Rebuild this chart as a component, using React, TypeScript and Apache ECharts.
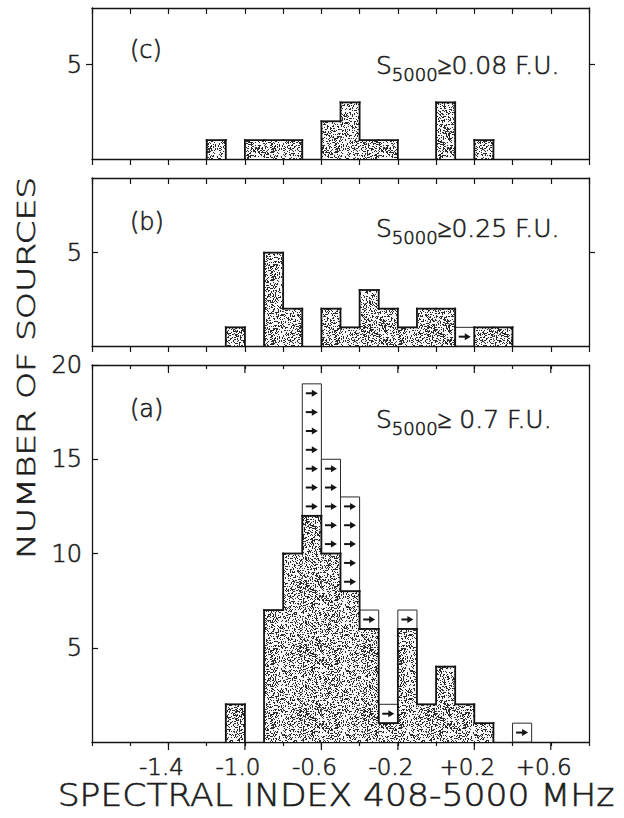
import React, { useEffect, useRef } from "react";
import * as echarts from "echarts";

// ---------- data ----------
const binLefts = [-1.3, -1.2, -1.1, -1.0, -0.9, -0.8, -0.7, -0.6, -0.5, -0.4, -0.3, -0.2, -0.1, 0.0, 0.1, 0.2, 0.3, 0.4, 0.5];
const BIN_WIDTH = 0.1;

// panel (a): S5000 >= 0.7 f.u.
const filledA = [0, 0, 2, 0, 7, 10, 12, 10, 8, 6, 1, 6, 2, 4, 2, 1, 0, 0, 0];
const lowerLimitsA = [0, 0, 0, 0, 0, 0, 7, 5, 5, 1, 1, 1, 0, 0, 0, 0, 0, 1, 0];
// panel (b): S5000 >= 0.25 f.u.
const filledB = [0, 0, 1, 0, 5, 2, 0, 2, 1, 3, 2, 1, 2, 2, 0, 1, 1, 0, 0];
const lowerLimitsB = [0, 0, 0, 0, 0, 0, 0, 0, 0, 0, 0, 0, 0, 0, 1, 0, 0, 0, 0];
// panel (c): S5000 >= 0.08 f.u.
const filledC = [0, 1, 0, 1, 1, 1, 0, 2, 3, 1, 1, 0, 0, 3, 0, 1, 0, 0, 0];
const lowerLimitsC = [0, 0, 0, 0, 0, 0, 0, 0, 0, 0, 0, 0, 0, 0, 0, 0, 0, 0, 0];

const X_MIN = -1.8;
const X_MAX = 0.8;
const X_STEP = 0.2;
const xLabelValues = [-1.4, -1.0, -0.6, -0.2, 0.2, 0.6];
const xLabelTexts = ["-1.4", "-1.0", "-0.6", "-0.2", "+0.2", "+0.6"];

const yMaxC = 8;
const yMaxB = 9;
const yMaxA = 20;
const yTicksC = [5];
const yTicksB = [5];
const yTicksA = [5, 10, 15, 20];

const panelLetters = ["(c)", "(b)", "(a)"];
const fluxLimits = ["≥0.08 F.U.", "≥0.25 F.U.", "≥ 0.7 F.U."];
const yTitle = "NUMBER OF SOURCES";
const xTitle = "SPECTRAL INDEX 408-5000 MHz";

// ---------- style / layout ----------
const INK = "#141414";
const TEXT = "#1c1c1c";
const FONT = "DejaVu Sans";
const FW = 200;
const TB = 0.6; // text thickening stroke
const GRID_LEFT = 92;
const GRID_WIDTH = 497;
const gridTops = [8, 178, 365];
const gridHeights = [151, 168, 377];
const letterY = [50, 222, 409];
const fluxY = [68, 231, 422];

function makeStipple() {
  const size = 64;
  const c = document.createElement("canvas");
  c.width = size;
  c.height = size;
  const ctx = c.getContext("2d")!;
  ctx.fillStyle = "#f6f6f6";
  ctx.fillRect(0, 0, size, size);
  ctx.fillStyle = "#2a2a2a";
  for (let y = 0; y < size; y++) {
    for (let x = 0; x < size; x++) {
      const h = Math.abs(Math.sin(x * 12.9898 + y * 78.233) * 43758.5453) % 1;
      if (h < 0.3) ctx.fillRect(x, y, 1, 1);
    }
  }
  return { image: c, repeat: "repeat", imageWidth: size, imageHeight: size };
}

function histData(filled: number[], limits: number[]) {
  return binLefts.map((x0, i) => [x0, x0 + BIN_WIDTH, filled[i], limits[i]]);
}

function fillRenderer(pattern: any) {
  return (params: any, api: any) => {
    const x0 = api.value(0);
    const x1 = api.value(1);
    const f = api.value(2);
    const a = api.value(3);
    const children: any[] = [];
    if (f > 0) {
      const p0 = api.coord([x0, 0]);
      const p1 = api.coord([x1, f]);
      children.push({
        type: "rect",
        shape: { x: p0[0], y: p1[1], width: p1[0] - p0[0], height: p0[1] - p1[1] },
        style: { fill: pattern },
      });
    }
    if (a > 0) {
      const p0 = api.coord([x0, f]);
      const p1 = api.coord([x1, f + a]);
      children.push({
        type: "rect",
        shape: { x: p0[0], y: p1[1], width: p1[0] - p0[0], height: p0[1] - p1[1] },
        style: { fill: "#ffffff", stroke: "#2a2a2a", lineWidth: 1 },
      });
      for (let k = 0; k < a; k++) {
        const c = api.coord([(x0 + x1) / 2, f + k + 0.5]);
        const cx = c[0];
        const cy = c[1];
        children.push({
          type: "line",
          shape: { x1: cx - 6, y1: cy, x2: cx + 1, y2: cy },
          style: { stroke: INK, lineWidth: 2 },
        });
        children.push({
          type: "polygon",
          shape: { points: [[cx + 6, cy], [cx, cy - 3.5], [cx, cy + 3.5]] },
          style: { fill: INK },
        });
      }
    }
    return { type: "group", children };
  };
}

function outlineRenderer(filled: number[]) {
  return (params: any, api: any) => {
    const i = params.dataIndex;
    const x0 = api.value(0);
    const x1 = api.value(1);
    const f = api.value(2);
    const prev = i > 0 ? filled[i - 1] : 0;
    const s = { stroke: INK, lineWidth: 1.8, lineCap: "square" };
    const children: any[] = [];
    if (f > 0) {
      const a = api.coord([x0, f]);
      const b = api.coord([x1, f]);
      children.push({ type: "line", shape: { x1: a[0], y1: a[1], x2: b[0], y2: b[1] }, style: s });
    }
    if (f !== prev) {
      const a = api.coord([x0, prev]);
      const b = api.coord([x0, f]);
      children.push({ type: "line", shape: { x1: a[0], y1: a[1], x2: b[0], y2: b[1] }, style: s });
    }
    return { type: "group", children };
  };
}

function majorTickRenderer(yMax: number) {
  return (params: any, api: any) => {
    const v = api.value(0);
    const b = api.coord([v, 0]);
    const t = api.coord([v, yMax]);
    const s = { stroke: INK, lineWidth: 1.2 };
    return {
      type: "group",
      children: [
        { type: "line", shape: { x1: b[0], y1: b[1], x2: b[0], y2: b[1] + 8 }, style: s },
        { type: "line", shape: { x1: t[0], y1: t[1], x2: t[0], y2: t[1] + 8 }, style: s },
      ],
    };
  };
}

function labelFor(v: number) {
  const k = xLabelValues.findIndex((t) => Math.abs(t - v) < 1e-6);
  return k >= 0 ? xLabelTexts[k] : "";
}

function xAxesFor(g: number, isA: boolean) {
  const line = { show: true, onZero: false, lineStyle: { color: INK, width: 1.3 } };
  return [
    {
      type: "value", gridIndex: g, position: "bottom", min: X_MIN, max: X_MAX, interval: X_STEP,
      axisLine: line,
      axisTick: { show: true, inside: false, length: isA ? 4 : 6, lineStyle: { color: INK, width: 1.2 } },
      axisLabel: {
        show: isA, margin: 13, fontSize: 23, fontWeight: FW, color: TEXT, fontFamily: FONT,
        textBorderColor: TEXT, textBorderWidth: TB,
        padding: [0, 14, 0, 0], formatter: (v: number) => labelFor(v),
      },
      splitLine: { show: false },
    },
    {
      type: "value", gridIndex: g, position: "top", min: X_MIN, max: X_MAX, interval: X_STEP,
      axisLine: line,
      axisTick: { show: true, inside: true, length: isA ? 4 : 6, lineStyle: { color: INK, width: 1.2 } },
      axisLabel: { show: false },
      splitLine: { show: false },
    },
  ];
}

function yAxesFor(g: number, max: number, ticks: number[], leftInside: boolean, rightTicks: boolean) {
  const line = { show: true, onZero: false, lineStyle: { color: INK, width: 1.3 } };
  return [
    {
      type: "value", gridIndex: g, position: "left", min: 0, max, interval: 5,
      axisLine: line,
      axisTick: { show: true, inside: leftInside, length: 6, customValues: ticks, lineStyle: { color: INK, width: 1.2 } },
      axisLabel: {
        show: true, margin: 10, fontSize: 24, fontWeight: FW, color: TEXT, fontFamily: FONT,
        textBorderColor: TEXT, textBorderWidth: TB, customValues: ticks,
      },
      splitLine: { show: false },
    },
    {
      type: "value", gridIndex: g, position: "right", min: 0, max, interval: 5,
      axisLine: line,
      axisTick: { show: rightTicks, inside: false, length: 6, customValues: ticks, lineStyle: { color: INK, width: 1.2 } },
      axisLabel: { show: false },
      splitLine: { show: false },
    },
  ];
}

export default function App() {
  const ref = useRef<HTMLDivElement>(null);

  useEffect(() => {
    const chart = echarts.init(ref.current!, null, { renderer: "svg", width: 624, height: 818 });
    const pattern = makeStipple();

    const panels = [
      { filled: filledC, limits: lowerLimitsC, max: yMaxC },
      { filled: filledB, limits: lowerLimitsB, max: yMaxB },
      { filled: filledA, limits: lowerLimitsA, max: yMaxA },
    ];

    const series: any[] = [];
    panels.forEach((p, g) => {
      const data = histData(p.filled, p.limits);
      series.push({
        type: "custom", coordinateSystem: "cartesian2d", xAxisIndex: 2 * g, yAxisIndex: 2 * g,
        renderItem: fillRenderer(pattern), data, z: 2, silent: true,
      });
      series.push({
        type: "custom", coordinateSystem: "cartesian2d", xAxisIndex: 2 * g, yAxisIndex: 2 * g,
        renderItem: outlineRenderer(p.filled), data, z: 3, silent: true,
      });
    });
    series.push({
      type: "custom", coordinateSystem: "cartesian2d", xAxisIndex: 4, yAxisIndex: 4,
      renderItem: majorTickRenderer(yMaxA), data: xLabelValues.map((v) => [v]), z: 4, silent: true,
    });

    const font = (size: number) => `${FW} ${size}px '${FONT}'`;
    const tok = (size: number, extra: any = {}) => ({
      fontSize: size, fontFamily: FONT, fontWeight: FW, fill: TEXT,
      stroke: TEXT, lineWidth: TB, verticalAlign: "top", ...extra,
    });
    const graphicEls: any[] = [];
    panelLetters.forEach((t, g) => {
      graphicEls.push({
        type: "text", x: 130, y: letterY[g],
        style: { text: t, font: font(24), fill: TEXT, stroke: TEXT, lineWidth: TB, align: "left", verticalAlign: "middle" },
      });
      graphicEls.push({
        type: "text", x: 376, y: fluxY[g],
        style: {
          text: `{s|S}{sub|5000}{n|${fluxLimits[g]}}`,
          align: "left", verticalAlign: "middle", fill: TEXT, stroke: TEXT, lineWidth: TB,
          rich: {
            s: tok(25),
            sub: tok(18, { padding: [12, 0, 0, 0] }),
            n: tok(25),
          },
        },
      });
    });
    graphicEls.push({
      type: "text", x: 26, y: 368, rotation: Math.PI / 2, scaleX: 1.38,
      style: { text: yTitle, font: font(25), fill: TEXT, stroke: TEXT, lineWidth: TB, align: "center", verticalAlign: "middle" },
    });
    graphicEls.push({
      type: "text", x: 336, y: 795, scaleX: 1.08,
      style: { text: xTitle, font: font(32), fill: TEXT, stroke: TEXT, lineWidth: TB, align: "center", verticalAlign: "middle" },
    });

    const option: any = {
      animation: false,
      backgroundColor: "#ffffff",
      textStyle: { fontFamily: FONT },
      grid: gridTops.map((top, g) => ({
        left: GRID_LEFT, top, width: GRID_WIDTH, height: gridHeights[g],
        show: false, containLabel: false,
      })),
      xAxis: [...xAxesFor(0, false), ...xAxesFor(1, false), ...xAxesFor(2, true)],
      yAxis: [
        ...yAxesFor(0, yMaxC, yTicksC, false, true),
        ...yAxesFor(1, yMaxB, yTicksB, true, true),
        ...yAxesFor(2, yMaxA, yTicksA, true, false),
      ],
      series,
      graphic: { elements: graphicEls },
    };
    chart.setOption(option);
    return () => chart.dispose();
  }, []);

  return (
    <div
      ref={ref}
      style={{ position: "absolute", left: 0, top: 0, width: 624, height: 818, background: "#fff" }}
    />
  );
}
